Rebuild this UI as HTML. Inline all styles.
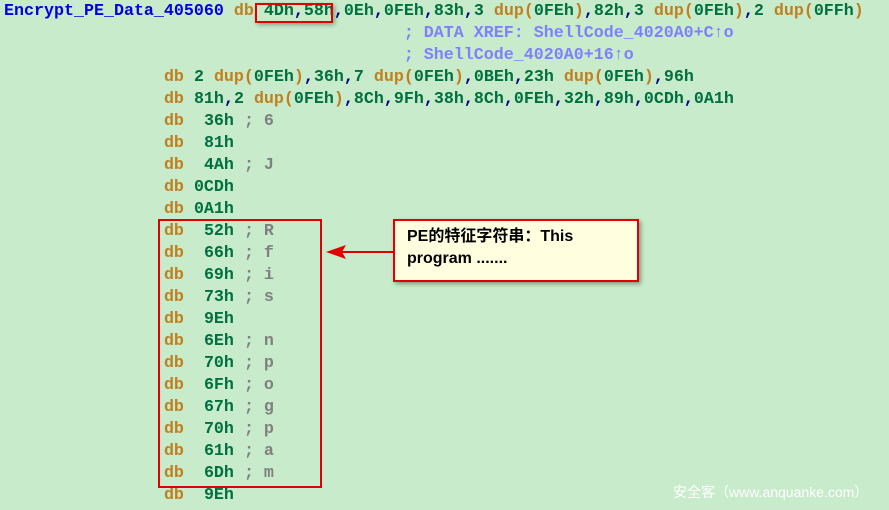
<!DOCTYPE html>
<html><head><meta charset="utf-8"><style>
body{margin:0;width:889px;height:510px;background:#c7ebcb;overflow:hidden;position:relative}
pre{position:absolute;left:4px;top:1px;margin:0;font:bold 16.67px/22px "Liberation Mono",monospace;color:#000080}
.l{color:#0000e0}.d{color:#c08020}.n{color:#007040}.c{color:#8080ff}.g{color:#808080}
.box{position:absolute;border:2px solid #e00000;box-sizing:border-box}
.call{position:absolute;left:393px;top:219px;width:246px;height:63px;background:#ffffe0;border:2px solid #e00000;box-sizing:border-box;box-shadow:2px 2px 4px rgba(0,0,0,.35);font:bold 16px/22px "Liberation Sans","Noto Sans CJK SC",sans-serif;padding:5px 12px;color:#000}
.wm{position:absolute;left:673px;top:482px;color:#fff;font:14px "Liberation Sans","Noto Sans CJK SC",sans-serif;white-space:nowrap}
</style></head><body>
<pre><span class="l">Encrypt_PE_Data_405060</span> <span class="d">db</span> <span class="n">4Dh</span>,<span class="n">58h</span>,<span class="n">0Eh</span>,<span class="n">0FEh</span>,<span class="n">83h</span>,<span class="n">3</span> <span class="d">dup(</span><span class="n">0FEh</span><span class="d">)</span>,<span class="n">82h</span>,<span class="n">3</span> <span class="d">dup(</span><span class="n">0FEh</span><span class="d">)</span>,<span class="n">2</span> <span class="d">dup(</span><span class="n">0FFh</span><span class="d">)</span>
<span class="c">                                        ; DATA XREF: ShellCode_4020A0+C↑o</span>
<span class="c">                                        ; ShellCode_4020A0+16↑o</span>
                <span class="d">db</span> <span class="n">2</span> <span class="d">dup(</span><span class="n">0FEh</span><span class="d">)</span>,<span class="n">36h</span>,<span class="n">7</span> <span class="d">dup(</span><span class="n">0FEh</span><span class="d">)</span>,<span class="n">0BEh</span>,<span class="n">23h</span> <span class="d">dup(</span><span class="n">0FEh</span><span class="d">)</span>,<span class="n">96h</span>
                <span class="d">db</span> <span class="n">81h</span>,<span class="n">2</span> <span class="d">dup(</span><span class="n">0FEh</span><span class="d">)</span>,<span class="n">8Ch</span>,<span class="n">9Fh</span>,<span class="n">38h</span>,<span class="n">8Ch</span>,<span class="n">0FEh</span>,<span class="n">32h</span>,<span class="n">89h</span>,<span class="n">0CDh</span>,<span class="n">0A1h</span>
                <span class="d">db</span>  <span class="n">36h</span> <span class="g">; 6</span>
                <span class="d">db</span>  <span class="n">81h</span>
                <span class="d">db</span>  <span class="n">4Ah</span> <span class="g">; J</span>
                <span class="d">db</span> <span class="n">0CDh</span>
                <span class="d">db</span> <span class="n">0A1h</span>
                <span class="d">db</span>  <span class="n">52h</span> <span class="g">; R</span>
                <span class="d">db</span>  <span class="n">66h</span> <span class="g">; f</span>
                <span class="d">db</span>  <span class="n">69h</span> <span class="g">; i</span>
                <span class="d">db</span>  <span class="n">73h</span> <span class="g">; s</span>
                <span class="d">db</span>  <span class="n">9Eh</span>
                <span class="d">db</span>  <span class="n">6Eh</span> <span class="g">; n</span>
                <span class="d">db</span>  <span class="n">70h</span> <span class="g">; p</span>
                <span class="d">db</span>  <span class="n">6Fh</span> <span class="g">; o</span>
                <span class="d">db</span>  <span class="n">67h</span> <span class="g">; g</span>
                <span class="d">db</span>  <span class="n">70h</span> <span class="g">; p</span>
                <span class="d">db</span>  <span class="n">61h</span> <span class="g">; a</span>
                <span class="d">db</span>  <span class="n">6Dh</span> <span class="g">; m</span>
                <span class="d">db</span>  <span class="n">9Eh</span></pre>
<div class="box" style="left:255px;top:3px;width:78px;height:20px;box-shadow:2px 2px 4px rgba(0,0,0,.3)"></div>
<div class="box" style="left:158px;top:219px;width:164px;height:269px"></div>
<svg style="position:absolute;left:0;top:0" width="889" height="510"><line x1="393" y1="252" x2="340" y2="252" stroke="#e00000" stroke-width="2"/><polygon points="326,252 346,245 342,252 346,259" fill="#e00000"/></svg>
<div class="call">PE的特征字符串：This<br>program .......</div>
<div class="wm">安全客（www.anquanke.com）</div>
</body></html>
